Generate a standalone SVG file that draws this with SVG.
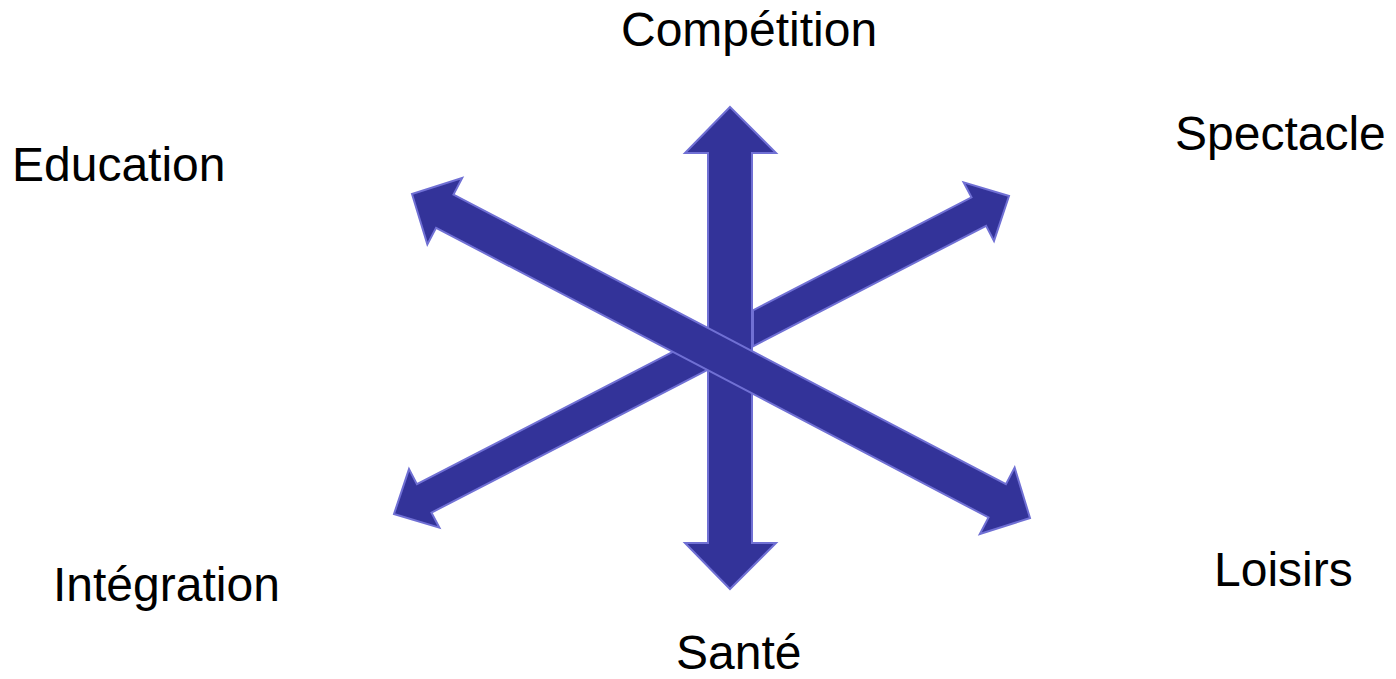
<svg xmlns="http://www.w3.org/2000/svg" width="1396" height="679" viewBox="0 0 1396 679">
<style>
.arr{fill:#333399;stroke:#7070d4;stroke-width:2;stroke-linejoin:miter}
.lbl{font-family:"Liberation Sans",Arial,sans-serif;font-size:48px;fill:#000}
</style>
<rect width="1396" height="679" fill="#ffffff"/>
<g id="connectors">
<polygon id="arrow-vertical" class="arr" points="730,107 776,153 752,153 752,543 776,543 730,589 685,543 708,543 708,153 685,153"/>
<polygon id="arrow-spectacle" class="arr" points="753,310.4 971.5,197.4 963.6,182.3 1009,196 994,240.9 986.1,225.8 753,346.3"/>
<polygon id="arrow-integration" class="arr" points="708,333.7 416.9,484.2 409,469.1 394,514 439.4,527.7 431.5,512.6 708,369.7"/>
<polygon id="arrow-education-loisirs" class="arr" transform="translate(721,356) rotate(27.67)" points="-348.9,0 -311.9,-37.5 -311.9,-18.75 311.9,-18.75 311.9,-37.5 348.9,0 311.9,37.5 311.9,18.75 -311.9,18.75 -311.9,37.5"/>
</g>
<g id="node-competition"><text class="lbl" x="621" y="46">Compétition</text></g>
<g id="node-spectacle"><text class="lbl" x="1175" y="150">Spectacle</text></g>
<g id="node-education"><text class="lbl" x="12" y="181">Education</text></g>
<g id="node-integration"><text class="lbl" x="53" y="601">Intégration</text></g>
<g id="node-loisirs"><text class="lbl" x="1214" y="586">Loisirs</text></g>
<g id="node-sante"><text class="lbl" x="676" y="669">Santé</text></g>
</svg>
